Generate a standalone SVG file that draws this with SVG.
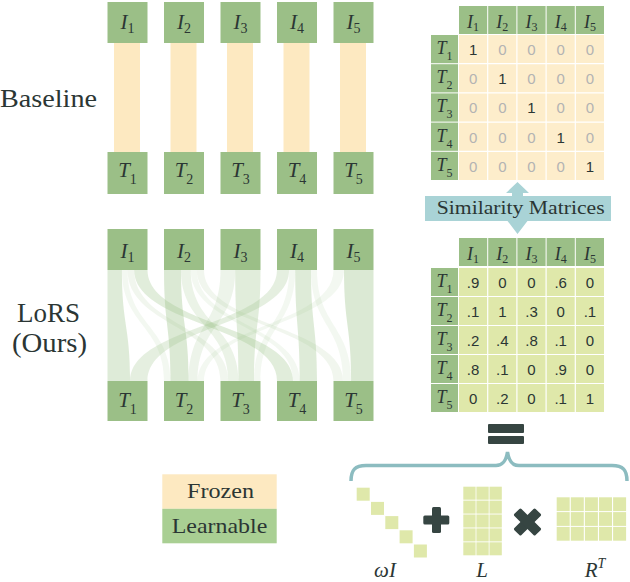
<svg xmlns="http://www.w3.org/2000/svg" width="630" height="582" viewBox="0 0 630 582">
<style>
.box{fill:#9bbf87}
.bar{fill:#fde9c1}
.ser{font-family:'Liberation Serif','DejaVu Serif',serif;fill:#2b3634}
.m{font-family:'Liberation Serif','DejaVu Serif',serif;font-style:italic;fill:#2b3634}
.s{font-style:normal}
.num{font-family:'Liberation Sans',Arial,sans-serif;font-size:15px;fill:#2b3634;text-anchor:middle}
.z{fill:#b3b3b3}
.lime{fill:#dfe8aa}
.yel{fill:#fdedcb}
.rib{fill:#9cc289}
.dark{fill:#364542}
.grid{stroke:#ffffff;stroke-width:1.2}
</style>

<!-- Row titles -->
<text class="ser" x="0" y="107" font-size="25" textLength="97" lengthAdjust="spacingAndGlyphs">Baseline</text>
<text class="ser" x="17" y="322" font-size="27" textLength="63" lengthAdjust="spacingAndGlyphs">LoRS</text>
<text class="ser" x="12" y="352" font-size="27" textLength="75" lengthAdjust="spacingAndGlyphs">(Ours)</text>

<!-- Baseline connectors -->
<g id="baseline-links">
<rect class="bar" x="114" y="43" width="26" height="109"/>
<rect class="bar" x="170.5" y="43" width="26" height="109"/>
<rect class="bar" x="227" y="43" width="26" height="109"/>
<rect class="bar" x="283.5" y="43" width="26" height="109"/>
<rect class="bar" x="340" y="43" width="26" height="109"/>
</g>

<!-- LoRS connectors -->
<g id="lors-links">
<path class="rib" fill-opacity="0.33" d="M107.5,270 C107.5,325.5 107.5,325.5 107.5,381 L130.1,381 C130.1,325.5 121.9,325.5 121.9,270Z"/>
<path class="rib" fill-opacity="0.12" d="M121.9,270 C121.9,325.5 164,325.5 164,381 L170.5,381 C170.5,325.5 127.5,325.5 127.5,270Z"/>
<path class="rib" fill-opacity="0.14" d="M127.5,270 C127.5,325.5 220.5,325.5 220.5,381 L228.2,381 C228.2,325.5 134.2,325.5 134.2,270Z"/>
<path class="rib" fill-opacity="0.3" d="M134.2,270 C134.2,325.5 277,325.5 277,381 L293,381 C293,325.5 147.5,325.5 147.5,270Z"/>
<path class="rib" fill-opacity="0.36" d="M164,270 C164,325.5 170.5,325.5 170.5,381 L188.6,381 C188.6,325.5 181,325.5 181,270Z"/>
<path class="rib" fill-opacity="0.2" d="M181,270 C181,325.5 228.2,325.5 228.2,381 L238.5,381 C238.5,325.5 190.7,325.5 190.7,270Z"/>
<path class="rib" fill-opacity="0.12" d="M190.7,270 C190.7,325.5 293,325.5 293,381 L299.7,381 C299.7,325.5 196.8,325.5 196.8,270Z"/>
<path class="rib" fill-opacity="0.14" d="M196.8,270 C196.8,325.5 333.5,325.5 333.5,381 L343.1,381 C343.1,325.5 204,325.5 204,270Z"/>
<path class="rib" fill-opacity="0.18" d="M220.5,270 C220.5,325.5 188.6,325.5 188.6,381 L197.6,381 C197.6,325.5 235.2,325.5 235.2,270Z"/>
<path class="rib" fill-opacity="0.3" d="M235.2,270 C235.2,325.5 238.5,325.5 238.5,381 L254,381 C254,325.5 260.5,325.5 260.5,270Z"/>
<path class="rib" fill-opacity="0.26" d="M277,270 C277,325.5 130.1,325.5 130.1,381 L147.5,381 C147.5,325.5 289.1,325.5 289.1,270Z"/>
<path class="rib" fill-opacity="0.12" d="M289.1,270 C289.1,325.5 254,325.5 254,381 L260.5,381 C260.5,325.5 295.2,325.5 295.2,270Z"/>
<path class="rib" fill-opacity="0.33" d="M295.2,270 C295.2,325.5 299.7,325.5 299.7,381 L317,381 C317,325.5 311,325.5 311,270Z"/>
<path class="rib" fill-opacity="0.12" d="M311,270 C311,325.5 343.1,325.5 343.1,381 L351.1,381 C351.1,325.5 317,325.5 317,270Z"/>
<path class="rib" fill-opacity="0.12" d="M333.5,270 C333.5,325.5 197.6,325.5 197.6,381 L204,381 C204,325.5 344,325.5 344,270Z"/>
<path class="rib" fill-opacity="0.36" d="M344,270 C344,325.5 351.1,325.5 351.1,381 L373.5,381 C373.5,325.5 373.5,325.5 373.5,270Z"/>
</g>

<!-- Baseline nodes -->
<g id="b-I1"><rect class="box" x="107.5" y="2" width="40" height="41"/><text class="m" x="127.5" y="29" font-size="21" text-anchor="middle">I<tspan class="s" font-size="14" dy="4">1</tspan></text></g>
<g id="b-I2"><rect class="box" x="164" y="2" width="40" height="41"/><text class="m" x="184" y="29" font-size="21" text-anchor="middle">I<tspan class="s" font-size="14" dy="4">2</tspan></text></g>
<g id="b-I3"><rect class="box" x="220.5" y="2" width="40" height="41"/><text class="m" x="240.5" y="29" font-size="21" text-anchor="middle">I<tspan class="s" font-size="14" dy="4">3</tspan></text></g>
<g id="b-I4"><rect class="box" x="277" y="2" width="40" height="41"/><text class="m" x="297" y="29" font-size="21" text-anchor="middle">I<tspan class="s" font-size="14" dy="4">4</tspan></text></g>
<g id="b-I5"><rect class="box" x="333.5" y="2" width="40" height="41"/><text class="m" x="353.5" y="29" font-size="21" text-anchor="middle">I<tspan class="s" font-size="14" dy="4">5</tspan></text></g>
<g id="b-T1"><rect class="box" x="107.5" y="152" width="40" height="42"/><text class="m" x="127.5" y="177" font-size="21" text-anchor="middle">T<tspan class="s" font-size="14" dy="7">1</tspan></text></g>
<g id="b-T2"><rect class="box" x="164" y="152" width="40" height="42"/><text class="m" x="184" y="177" font-size="21" text-anchor="middle">T<tspan class="s" font-size="14" dy="7">2</tspan></text></g>
<g id="b-T3"><rect class="box" x="220.5" y="152" width="40" height="42"/><text class="m" x="240.5" y="177" font-size="21" text-anchor="middle">T<tspan class="s" font-size="14" dy="7">3</tspan></text></g>
<g id="b-T4"><rect class="box" x="277" y="152" width="40" height="42"/><text class="m" x="297" y="177" font-size="21" text-anchor="middle">T<tspan class="s" font-size="14" dy="7">4</tspan></text></g>
<g id="b-T5"><rect class="box" x="333.5" y="152" width="40" height="42"/><text class="m" x="353.5" y="177" font-size="21" text-anchor="middle">T<tspan class="s" font-size="14" dy="7">5</tspan></text></g>

<!-- LoRS nodes -->
<g id="l-I1"><rect class="box" x="107.5" y="229" width="40" height="41"/><text class="m" x="127.5" y="258" font-size="21" text-anchor="middle">I<tspan class="s" font-size="14" dy="4">1</tspan></text></g>
<g id="l-I2"><rect class="box" x="164" y="229" width="40" height="41"/><text class="m" x="184" y="258" font-size="21" text-anchor="middle">I<tspan class="s" font-size="14" dy="4">2</tspan></text></g>
<g id="l-I3"><rect class="box" x="220.5" y="229" width="40" height="41"/><text class="m" x="240.5" y="258" font-size="21" text-anchor="middle">I<tspan class="s" font-size="14" dy="4">3</tspan></text></g>
<g id="l-I4"><rect class="box" x="277" y="229" width="40" height="41"/><text class="m" x="297" y="258" font-size="21" text-anchor="middle">I<tspan class="s" font-size="14" dy="4">4</tspan></text></g>
<g id="l-I5"><rect class="box" x="333.5" y="229" width="40" height="41"/><text class="m" x="353.5" y="258" font-size="21" text-anchor="middle">I<tspan class="s" font-size="14" dy="4">5</tspan></text></g>
<g id="l-T1"><rect class="box" x="107.5" y="381" width="40" height="40"/><text class="m" x="127.5" y="407" font-size="21" text-anchor="middle">T<tspan class="s" font-size="14" dy="7">1</tspan></text></g>
<g id="l-T2"><rect class="box" x="164" y="381" width="40" height="40"/><text class="m" x="184" y="407" font-size="21" text-anchor="middle">T<tspan class="s" font-size="14" dy="7">2</tspan></text></g>
<g id="l-T3"><rect class="box" x="220.5" y="381" width="40" height="40"/><text class="m" x="240.5" y="407" font-size="21" text-anchor="middle">T<tspan class="s" font-size="14" dy="7">3</tspan></text></g>
<g id="l-T4"><rect class="box" x="277" y="381" width="40" height="40"/><text class="m" x="297" y="407" font-size="21" text-anchor="middle">T<tspan class="s" font-size="14" dy="7">4</tspan></text></g>
<g id="l-T5"><rect class="box" x="333.5" y="381" width="40" height="40"/><text class="m" x="353.5" y="407" font-size="21" text-anchor="middle">T<tspan class="s" font-size="14" dy="7">5</tspan></text></g>

<!-- Top similarity matrix (baseline) -->
<g id="matrix-baseline">
<rect class="yel" x="459" y="35" width="145" height="145"/>
<g class="grid">
<line x1="487.7" y1="35" x2="487.7" y2="180"/><line x1="516.9" y1="35" x2="516.9" y2="180"/><line x1="546.1" y1="35" x2="546.1" y2="180"/><line x1="575.3" y1="35" x2="575.3" y2="180"/>
<line x1="459" y1="63.7" x2="604" y2="63.7"/><line x1="459" y1="92.9" x2="604" y2="92.9"/><line x1="459" y1="122.1" x2="604" y2="122.1"/><line x1="459" y1="151.3" x2="604" y2="151.3"/>
</g>
<rect class="box" x="459" y="6" width="28.2" height="28"/><rect class="box" x="488.2" y="6" width="28.2" height="28"/><rect class="box" x="517.4" y="6" width="28.2" height="28"/><rect class="box" x="546.6" y="6" width="28.2" height="28"/><rect class="box" x="575.8" y="6" width="28.2" height="28"/>
<rect class="box" x="431" y="35" width="27" height="28.2"/><rect class="box" x="431" y="64.2" width="27" height="28.2"/><rect class="box" x="431" y="93.4" width="27" height="28.2"/><rect class="box" x="431" y="122.6" width="27" height="28.2"/><rect class="box" x="431" y="151.8" width="27" height="28.2"/>
<g class="m" font-size="18" text-anchor="middle">
<text x="473.1" y="28">I<tspan class="s" font-size="12" dy="3">1</tspan></text>
<text x="502.3" y="28">I<tspan class="s" font-size="12" dy="3">2</tspan></text>
<text x="531.5" y="28">I<tspan class="s" font-size="12" dy="3">3</tspan></text>
<text x="560.7" y="28">I<tspan class="s" font-size="12" dy="3">4</tspan></text>
<text x="589.9" y="28">I<tspan class="s" font-size="12" dy="3">5</tspan></text>
<text x="444.5" y="54">T<tspan class="s" font-size="12" dy="6">1</tspan></text>
<text x="444.5" y="83.2">T<tspan class="s" font-size="12" dy="6">2</tspan></text>
<text x="444.5" y="112.4">T<tspan class="s" font-size="12" dy="6">3</tspan></text>
<text x="444.5" y="141.6">T<tspan class="s" font-size="12" dy="6">4</tspan></text>
<text x="444.5" y="170.8">T<tspan class="s" font-size="12" dy="6">5</tspan></text>
</g>
<g class="num" font-size="16">
<text x="473.1" y="55">1</text><text class="z" x="502.3" y="55">0</text><text class="z" x="531.5" y="55">0</text><text class="z" x="560.7" y="55">0</text><text class="z" x="589.9" y="55">0</text>
<text class="z" x="473.1" y="84.2">0</text><text x="502.3" y="84.2">1</text><text class="z" x="531.5" y="84.2">0</text><text class="z" x="560.7" y="84.2">0</text><text class="z" x="589.9" y="84.2">0</text>
<text class="z" x="473.1" y="113.4">0</text><text class="z" x="502.3" y="113.4">0</text><text x="531.5" y="113.4">1</text><text class="z" x="560.7" y="113.4">0</text><text class="z" x="589.9" y="113.4">0</text>
<text class="z" x="473.1" y="142.6">0</text><text class="z" x="502.3" y="142.6">0</text><text class="z" x="531.5" y="142.6">0</text><text x="560.7" y="142.6">1</text><text class="z" x="589.9" y="142.6">0</text>
<text class="z" x="473.1" y="171.8">0</text><text class="z" x="502.3" y="171.8">0</text><text class="z" x="531.5" y="171.8">0</text><text class="z" x="560.7" y="171.8">0</text><text x="589.9" y="171.8">1</text>
</g>
</g>

<!-- Similarity Matrices double arrow + label -->
<g id="similarity-label">
<polygon fill="#a9d3d6" points="517.5,182 529,193 523,193 523,219 529,219 517.5,234 506,219 512,219 512,193 506,193"/>
<rect fill="#a9d3d6" x="425" y="196" width="186" height="25"/>
<text class="ser" x="436.7" y="214.3" font-size="18" textLength="168" lengthAdjust="spacingAndGlyphs">Similarity Matrices</text>
</g>

<!-- Bottom similarity matrix (LoRS) -->
<g id="matrix-lors">
<rect class="lime" x="459" y="268" width="145" height="144"/>
<g class="grid">
<line x1="487.7" y1="268" x2="487.7" y2="412"/><line x1="516.9" y1="268" x2="516.9" y2="412"/><line x1="546.1" y1="268" x2="546.1" y2="412"/><line x1="575.3" y1="268" x2="575.3" y2="412"/>
<line x1="459" y1="296.5" x2="604" y2="296.5"/><line x1="459" y1="325.5" x2="604" y2="325.5"/><line x1="459" y1="354.5" x2="604" y2="354.5"/><line x1="459" y1="383.5" x2="604" y2="383.5"/>
</g>
<rect class="box" x="459" y="238" width="28.2" height="28"/><rect class="box" x="488.2" y="238" width="28.2" height="28"/><rect class="box" x="517.4" y="238" width="28.2" height="28"/><rect class="box" x="546.6" y="238" width="28.2" height="28"/><rect class="box" x="575.8" y="238" width="28.2" height="28"/>
<rect class="box" x="431" y="268" width="27" height="28"/><rect class="box" x="431" y="297" width="27" height="28"/><rect class="box" x="431" y="326" width="27" height="28"/><rect class="box" x="431" y="355" width="27" height="28"/><rect class="box" x="431" y="384" width="27" height="28"/>
<g class="m" font-size="18" text-anchor="middle">
<text x="473.1" y="260">I<tspan class="s" font-size="12" dy="3">1</tspan></text>
<text x="502.3" y="260">I<tspan class="s" font-size="12" dy="3">2</tspan></text>
<text x="531.5" y="260">I<tspan class="s" font-size="12" dy="3">3</tspan></text>
<text x="560.7" y="260">I<tspan class="s" font-size="12" dy="3">4</tspan></text>
<text x="589.9" y="260">I<tspan class="s" font-size="12" dy="3">5</tspan></text>
<text x="444.5" y="287">T<tspan class="s" font-size="12" dy="6">1</tspan></text>
<text x="444.5" y="316">T<tspan class="s" font-size="12" dy="6">2</tspan></text>
<text x="444.5" y="345">T<tspan class="s" font-size="12" dy="6">3</tspan></text>
<text x="444.5" y="374">T<tspan class="s" font-size="12" dy="6">4</tspan></text>
<text x="444.5" y="403">T<tspan class="s" font-size="12" dy="6">5</tspan></text>
</g>
<g class="num">
<text x="473.1" y="287.5">.9</text><text x="502.3" y="287.5">0</text><text x="531.5" y="287.5">0</text><text x="560.7" y="287.5">.6</text><text x="589.9" y="287.5">0</text>
<text x="473.1" y="316.5">.1</text><text x="502.3" y="316.5">1</text><text x="531.5" y="316.5">.3</text><text x="560.7" y="316.5">0</text><text x="589.9" y="316.5">.1</text>
<text x="473.1" y="345.5">.2</text><text x="502.3" y="345.5">.4</text><text x="531.5" y="345.5">.8</text><text x="560.7" y="345.5">.1</text><text x="589.9" y="345.5">0</text>
<text x="473.1" y="374.5">.8</text><text x="502.3" y="374.5">.1</text><text x="531.5" y="374.5">0</text><text x="560.7" y="374.5">.9</text><text x="589.9" y="374.5">0</text>
<text x="473.1" y="403.5">0</text><text x="502.3" y="403.5">.2</text><text x="531.5" y="403.5">0</text><text x="560.7" y="403.5">.1</text><text x="589.9" y="403.5">1</text>
</g>
</g>

<!-- Equals sign and brace -->
<g id="equals">
<rect class="dark" x="488" y="424" width="36" height="9" rx="1"/>
<rect class="dark" x="488" y="436" width="36" height="8" rx="1"/>
</g>
<path id="brace" fill="none" stroke="#8cbcc0" stroke-width="3.5" d="M351,481 C351,470 355,465.5 366,465.5 L496,465.5 C503,465.5 506,461 507.5,452 C509,461 512,465.5 519,465.5 L612,465.5 C623,465.5 627,470 627,481"/>

<!-- Decomposition -->
<g id="omegaI">
<rect class="lime" x="356.7" y="487.7" width="13" height="13"/>
<rect class="lime" x="371" y="501.9" width="13" height="13"/>
<rect class="lime" x="385.3" y="516.1" width="13" height="13"/>
<rect class="lime" x="399.6" y="530.3" width="13" height="13"/>
<rect class="lime" x="413.9" y="544.5" width="13" height="13"/>
<text class="m" x="385" y="577" font-size="21" text-anchor="middle">ωI</text>
</g>
<g id="plus">
<rect class="dark" x="432" y="507" width="9" height="26" rx="1.5"/>
<rect class="dark" x="423.3" y="515.5" width="26" height="9" rx="1.5"/>
</g>
<g id="L">
<g class="lime">
<rect x="463.3" y="486.7" width="12.3" height="13"/><rect x="476.4" y="486.7" width="12.3" height="13"/><rect x="489.5" y="486.7" width="12.3" height="13"/>
<rect x="463.3" y="500.6" width="12.3" height="13"/><rect x="476.4" y="500.6" width="12.3" height="13"/><rect x="489.5" y="500.6" width="12.3" height="13"/>
<rect x="463.3" y="514.5" width="12.3" height="13"/><rect x="476.4" y="514.5" width="12.3" height="13"/><rect x="489.5" y="514.5" width="12.3" height="13"/>
<rect x="463.3" y="528.4" width="12.3" height="13"/><rect x="476.4" y="528.4" width="12.3" height="13"/><rect x="489.5" y="528.4" width="12.3" height="13"/>
<rect x="463.3" y="542.3" width="12.3" height="13"/><rect x="476.4" y="542.3" width="12.3" height="13"/><rect x="489.5" y="542.3" width="12.3" height="13"/>
</g>
<text class="m" x="482" y="577" font-size="21" text-anchor="middle">L</text>
</g>
<g id="times" transform="rotate(45 527.5 522)">
<rect class="dark" x="522.5" y="507" width="10" height="30" rx="1.5"/>
<rect class="dark" x="512.5" y="517" width="30" height="10" rx="1.5"/>
</g>
<g id="RT">
<g class="lime">
<rect x="556.7" y="497.3" width="13" height="13.8"/><rect x="570.8" y="497.3" width="13" height="13.8"/><rect x="584.9" y="497.3" width="13" height="13.8"/><rect x="599" y="497.3" width="13" height="13.8"/><rect x="613.1" y="497.3" width="13" height="13.8"/>
<rect x="556.7" y="512.1" width="13" height="13.8"/><rect x="570.8" y="512.1" width="13" height="13.8"/><rect x="584.9" y="512.1" width="13" height="13.8"/><rect x="599" y="512.1" width="13" height="13.8"/><rect x="613.1" y="512.1" width="13" height="13.8"/>
<rect x="556.7" y="526.9" width="13" height="13.8"/><rect x="570.8" y="526.9" width="13" height="13.8"/><rect x="584.9" y="526.9" width="13" height="13.8"/><rect x="599" y="526.9" width="13" height="13.8"/><rect x="613.1" y="526.9" width="13" height="13.8"/>
</g>
<text class="m" x="595" y="577" font-size="21" text-anchor="middle">R<tspan font-size="14" dy="-9">T</tspan></text>
</g>

<!-- Legend -->
<g id="legend-frozen">
<rect fill="#fde9c1" x="162.3" y="474.3" width="114.4" height="34.5"/>
<text class="ser" x="187" y="498.3" font-size="21" textLength="67" lengthAdjust="spacingAndGlyphs">Frozen</text>
</g>
<g id="legend-learnable">
<rect fill="#a9cf93" x="162.3" y="508.8" width="114.4" height="34.5"/>
<text class="ser" x="171.7" y="533.3" font-size="21" textLength="95.6" lengthAdjust="spacingAndGlyphs">Learnable</text>
</g>
</svg>
